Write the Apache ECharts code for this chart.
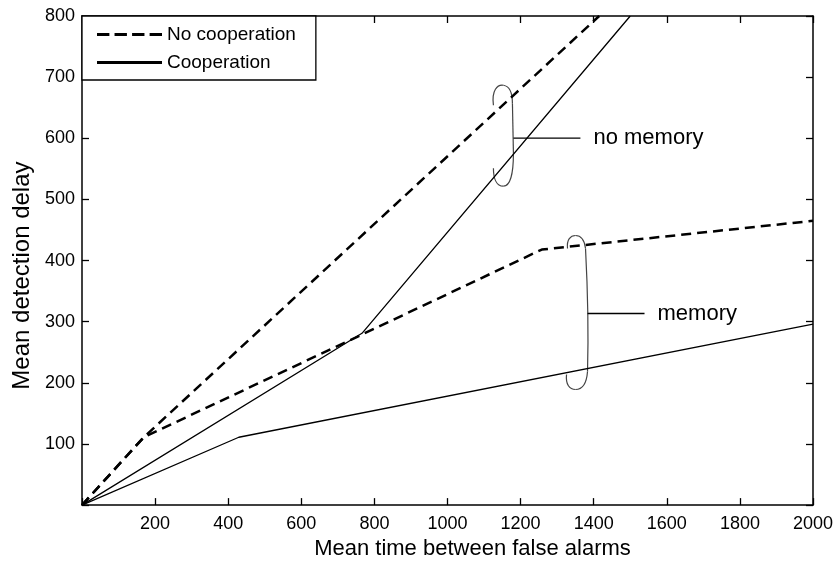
<!DOCTYPE html>
<html>
<head>
<meta charset="utf-8">
<script src="https://cdn.jsdelivr.net/npm/echarts@6/dist/echarts.min.js"></script>
<style>
  html, body { margin: 0; padding: 0; background: #fff; }
  #chart { width: 837px; height: 565px; }
</style>
</head>
<body>
<div id="chart"></div>
<script>
// values
const xNoCoopNoMem = [0, 169, 1415]
const yNoCoopNoMem = [0, 111, 800]
const xCoopNoMem = [0, 766, 1500]
const yCoopNoMem = [0, 281, 800]
const xNoCoopMem = [0, 169, 766, 1258, 2000]
const yNoCoopMem = [0, 111, 279, 418, 465]
const xCoopMem = [0, 429, 2000]
const yCoopMem = [0, 111, 296]

const xTicks = [0, 200, 400, 600, 800, 1000, 1200, 1400, 1600, 1800, 2000]
const yTicks = [0, 100, 200, 300, 400, 500, 600, 700, 800]

const FONT = 'Liberation Sans'

function pairs(xs, ys){
    return xs.map((x, i) => [x, ys[i]])
}

const dashed = { color: '#000', width: 2.5, type: [10, 6] }
const solid = { color: '#000', width: 1.3, type: 'solid' }

function lineSeries(name, data, style){
    return {
        name: name,
        type: 'line',
        data: data,
        symbol: 'none',
        showSymbol: false,
        lineStyle: style,
        itemStyle: { color: '#000' },
        animation: false,
        clip: true
    }
}

// box round the plot, ticks pointing in on all four sides
const axisCommon = {
    axisLine: { onZero: false, lineStyle: { color: '#000', width: 1.5 } },
    axisTick: { show: true, inside: true, length: 7, lineStyle: { color: '#000', width: 1.3 } },
    splitLine: { show: false }
}

// legend samples: four dashes, one thin line
const dashIcon = 'path://M0,0h12v3h-12z M17,0h12v3h-12z M34,0h12v3h-12z M51,0h12v3h-12z'
const lineIcon = 'path://M0,0h63v1.4h-63z'

const chart = echarts.init(document.getElementById('chart'))
chart.setOption({
    backgroundColor: '#fff',
    animation: false,
    textStyle: { fontFamily: FONT },
    grid: { left: 82, right: 24, top: 16, bottom: 54 },
    legend: {
        data: [
            { name: 'No cooperation', icon: dashIcon },
            { name: 'Cooperation', icon: lineIcon }
        ],
        orient: 'vertical',
        left: 82,
        top: 16,
        padding: [9, 20, 8, 15],
        itemWidth: 65,
        itemHeight: 3,
        itemGap: 9,
        symbolKeepAspect: false,
        backgroundColor: '#fff',
        borderColor: '#000',
        borderWidth: 1.3,
        borderRadius: 0,
        textStyle: { fontFamily: FONT, fontSize: 19, color: '#000', lineHeight: 19 }
    },
    xAxis: [
        Object.assign({
            type: 'value',
            position: 'bottom',
            min: xTicks[0],
            max: xTicks[xTicks.length - 1],
            interval: 200,
            name: 'Mean time between false alarms',
            nameLocation: 'middle',
            nameGap: 30,
            nameTextStyle: { fontFamily: FONT, fontSize: 22, color: '#000', padding: [0, 0, 0, 50] },
            axisLabel: {
                fontFamily: FONT, fontSize: 18, color: '#000', margin: 10,
                formatter: v => v === 0 ? '' : String(v)
            }
        }, axisCommon),
        Object.assign({
            type: 'value',
            position: 'top',
            min: xTicks[0],
            max: xTicks[xTicks.length - 1],
            interval: 200,
            axisLabel: { show: false }
        }, axisCommon)
    ],
    yAxis: [
        Object.assign({
            type: 'value',
            position: 'left',
            min: yTicks[0],
            max: yTicks[yTicks.length - 1],
            interval: 100,
            name: 'Mean detection delay',
            nameLocation: 'middle',
            nameGap: 48,
            nameTextStyle: { fontFamily: FONT, fontSize: 24, color: '#000', padding: [0, 30, 0, 0] },
            axisLabel: {
                fontFamily: FONT, fontSize: 18, color: '#000', margin: 7,
                formatter: v => v === 0 ? '' : String(v)
            }
        }, axisCommon),
        Object.assign({
            type: 'value',
            position: 'right',
            min: yTicks[0],
            max: yTicks[yTicks.length - 1],
            interval: 100,
            axisLabel: { show: false }
        }, axisCommon)
    ],
    series: [
        lineSeries('No cooperation', pairs(xNoCoopNoMem, yNoCoopNoMem), dashed),
        lineSeries('Cooperation', pairs(xCoopNoMem, yCoopNoMem), solid),
        lineSeries('No cooperation', pairs(xNoCoopMem, yNoCoopMem), dashed),
        lineSeries('Cooperation', pairs(xCoopMem, yCoopMem), solid)
    ]
})

// hand drawn brackets with labels, anchored at data coordinates
// each segment: [x1, y1, cpx1, cpy1, cpx2, cpy2, x2, y2] relative to the anchor
function bracket(anchor, segs, lineFrom, lineTo, text){
    const p = chart.convertToPixel({ gridIndex: 0 }, anchor)
    const children = segs.map(s => ({
        type: 'bezierCurve',
        shape: { x1: s[0], y1: s[1], cpx1: s[2], cpy1: s[3], cpx2: s[4], cpy2: s[5], x2: s[6], y2: s[7] },
        style: { fill: null, stroke: '#444', lineWidth: 1.2 }
    }))
    children.push({
        type: 'line',
        shape: { x1: lineFrom[0], y1: lineFrom[1], x2: lineTo[0], y2: lineTo[1] },
        style: { stroke: '#000', lineWidth: 1.3 }
    })
    children.push({
        type: 'text',
        x: lineTo[0] + 13,
        y: lineTo[1],
        style: { text: text, fill: '#000', font: '22px "' + FONT + '"', verticalAlign: 'middle', align: 'left' }
    })
    return { type: 'group', x: p[0], y: p[1], children: children }
}

chart.setOption({
    graphic: [
        bracket([1153, 605], [
            [-10, -30, -12, -45, -6, -51, 0, -50],
            [0, -50, 6, -49, 9, -42, 9, -32],
            [9, -32, 9, -32, 10, 18, 10, 18],
            [10, 18, 10, 38, 7, 51, 0, 51],
            [0, 51, -7, 51, -10, 43, -10, 33]
        ], [10, 3], [77, 3], 'no memory'),
        bracket([1353, 315], [
            [-9, -64, -10, -73, -6, -77, -1, -77],
            [-1, -77, 5, -77, 8, -72, 9, -64],
            [9, -64, 11, -26, 12, 24, 11, 59],
            [11, 59, 10, 72, 5, 77, -1, 77],
            [-1, 77, -7, 77, -11, 72, -10, 62]
        ], [11, 1], [68, 1], 'memory')
    ]
})
</script>
</body>
</html>
